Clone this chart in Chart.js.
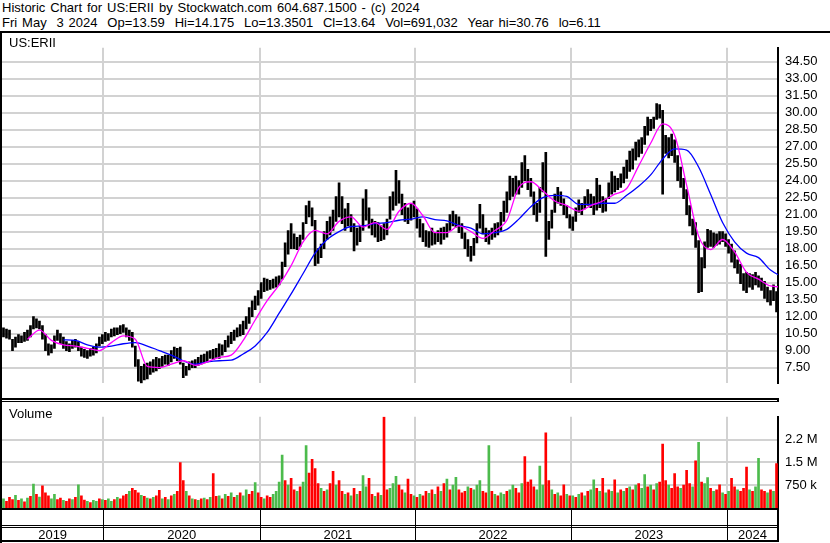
<!DOCTYPE html>
<html>
<head>
<meta charset="utf-8">
<script src="https://cdn.jsdelivr.net/npm/chart.js@4/dist/chart.umd.min.js"></script>
<style>
    body { margin: 0; background: #fff; }
    #wrap { position: relative; width: 830px; height: 543px; overflow: hidden; background: #fff; font-family: "Liberation Sans", Arial, sans-serif; }
    .hdr { position: absolute; left: 2px; font-size: 13px; line-height: 15px; word-spacing: 1.3px; white-space: pre; color: #000; }
    .lbl { position: absolute; font-size: 13px; line-height: 15px; color: #000; }
    .ln { position: absolute; background: #000; }
    canvas { position: absolute; left: 0; }
</style>
</head>
<body>
<div id="wrap">
    <div class="hdr" style="top:0px">Historic Chart for US:ERII by Stockwatch.com 604.687.1500 - (c) 2024</div>
    <div class="hdr" style="top:15px">Fri May  3 2024  Op=13.59  Hi=14.175  Lo=13.3501  Cl=13.64  Vol=691,032  Year hi=30.76  lo=6.11</div>
    <div class="ln" style="left:0;top:31px;width:830px;height:2px"></div>
    <canvas id="price" width="830" height="365" style="top:33px"></canvas>
    <div class="ln" style="left:0;top:398px;width:779px;height:2px"></div>
    <div class="ln" style="left:0;top:401px;width:779px;height:1px"></div>
    <div class="ln" style="left:777px;top:398px;width:2px;height:4px"></div>
    <canvas id="vol" width="830" height="141" style="top:402px"></canvas>
    <div class="ln" style="left:0;top:31px;width:2px;height:512px"></div>
    <div class="lbl" style="left:9px;top:35px">US:ERII</div>
    <div class="lbl" style="left:9px;top:406px">Volume</div>
</div>
<script>
// one entry per week, May 2019 .. May 2024
const priceLow = [
    10.2,10.1,10.0,9.0,9.3,9.7,9.7,9.8,9.9,10.2,
    10.9,11.0,10.9,10.0,9.0,8.6,8.8,9.2,9.9,9.6,
    9.2,9.0,8.9,9.2,9.3,9.0,8.5,8.4,8.3,8.5,
    8.6,8.8,9.4,9.6,9.8,9.9,10.2,10.3,10.4,10.5,
    10.6,10.2,9.9,9.3,7.6,6.3,6.1,6.4,6.5,6.9,
    7.1,7.2,7.4,7.6,7.8,7.7,8.0,8.3,8.1,7.8,
    6.6,6.8,7.3,7.5,7.5,7.7,7.8,7.9,8.0,8.3,
    8.2,8.4,8.3,8.6,8.9,9.3,9.6,9.9,10.2,10.3,
    10.4,10.9,11.4,12.0,12.6,13.0,13.6,14.2,14.3,14.4,
    14.5,14.6,14.8,15.3,16.4,17.5,18.0,18.0,17.9,18.2,
    18.8,20.2,20.8,20.0,16.5,16.7,17.2,18.0,18.8,19.2,
    19.6,20.4,20.8,20.2,19.6,20.0,19.5,17.8,18.3,18.6,
    19.6,20.5,19.8,19.2,19.0,18.6,18.7,18.8,19.2,20.6,
    21.4,21.8,22.0,21.0,20.4,20.2,20.5,20.8,19.8,19.0,
    18.6,18.2,18.1,18.3,18.4,18.6,18.4,18.8,19.0,19.6,
    20.0,19.9,19.4,18.9,18.0,17.3,16.9,17.4,18.5,19.8,
    19.3,18.6,18.4,18.8,19.0,19.2,19.6,20.4,21.2,22.3,
    22.6,22.8,22.8,23.4,24.0,23.2,22.6,21.0,20.4,21.2,
    23.0,17.3,18.8,19.8,21.2,22.0,21.8,21.0,20.7,19.8,
    19.6,20.4,21.2,21.0,21.5,21.8,21.6,21.0,21.4,21.6,
    21.2,21.3,22.4,22.8,23.0,23.2,23.4,23.8,24.2,24.8,
    25.0,25.8,26.1,26.4,27.2,28.0,28.4,28.6,29.4,29.5,
    22.8,26.4,26.0,26.2,25.6,24.0,23.4,22.4,21.0,20.0,
    19.2,18.1,14.1,14.2,16.3,18.1,18.2,18.1,18.3,18.4,
    18.6,18.2,17.6,16.8,16.3,15.8,14.9,14.3,14.1,14.6,
    14.4,14.8,14.6,14.3,13.6,13.3,13.0,13.4,12.4
];
const priceHigh = [
    11.0,10.9,10.8,10.0,10.2,10.4,10.3,10.6,10.8,11.2,
    12.0,11.8,11.6,11.2,10.4,9.6,9.5,10.3,10.8,10.5,
    10.2,9.8,9.6,9.9,10.0,9.8,9.3,9.1,9.0,9.2,
    9.3,9.6,10.2,10.4,10.6,10.5,10.9,11.0,11.0,11.2,
    11.3,11.0,10.8,10.6,9.4,8.2,7.6,7.8,7.9,8.0,
    8.2,8.4,8.3,8.5,8.6,8.6,9.0,9.3,9.2,9.3,
    7.9,7.6,8.0,8.1,8.2,8.4,8.6,8.7,8.9,9.0,
    9.1,9.2,9.6,9.5,9.9,10.3,10.6,10.8,11.0,11.3,
    11.6,12.0,12.8,13.4,13.8,14.3,15.0,15.4,15.3,15.2,
    15.3,15.5,15.6,16.8,18.5,19.6,20.2,19.3,19.0,19.2,
    20.3,21.8,22.2,21.6,20.5,18.0,18.4,19.5,20.4,20.8,
    21.4,22.6,23.8,22.6,21.5,22.0,21.0,20.2,19.8,20.0,
    22.4,23.2,21.6,20.6,20.4,20.3,20.0,20.2,20.6,22.6,
    23.0,24.9,24.0,22.8,22.0,21.6,22.0,22.2,21.5,20.6,
    20.2,19.6,19.5,19.8,19.4,19.6,19.8,19.9,20.2,21.0,
    21.3,21.0,20.8,20.2,19.4,18.8,18.2,18.9,20.2,21.9,
    21.0,19.8,19.6,19.8,20.2,20.3,21.2,22.2,23.0,24.4,
    24.2,24.4,24.0,25.6,26.2,25.0,24.2,23.0,22.0,23.4,
    25.6,26.5,20.4,21.4,22.8,23.4,23.0,22.4,21.8,21.0,
    20.8,21.6,22.3,22.0,22.6,23.2,22.8,22.6,24.2,23.6,
    22.6,22.4,23.8,24.8,24.4,24.2,24.6,25.2,25.8,26.6,
    26.8,27.4,27.6,27.8,28.8,29.6,29.4,29.6,30.8,30.7,
    30.2,28.0,27.8,28.1,27.6,26.2,25.2,24.2,23.2,21.8,
    20.6,20.3,18.7,17.2,18.6,19.7,19.6,19.4,19.3,19.5,
    19.5,19.3,18.8,18.4,17.8,17.0,16.6,15.8,15.9,15.8,
    15.7,15.9,15.6,15.4,15.1,14.6,14.3,14.8,14.2
];
// volume in millions of shares, g = up, r = down
const volume = [
    0.30,0.22,0.35,0.28,0.42,0.25,0.30,0.20,0.33,0.38,
    0.79,0.45,0.36,0.73,0.50,0.40,0.30,0.45,0.28,0.33,
    0.25,0.22,0.30,0.28,0.35,0.76,0.40,0.26,0.22,0.18,
    0.25,0.22,0.30,0.28,0.25,0.30,0.22,0.28,0.35,0.30,
    0.40,0.45,0.55,0.65,0.58,0.50,0.42,0.38,0.33,0.30,
    0.35,0.40,0.58,0.30,0.35,0.28,0.40,0.45,0.55,1.49,
    0.90,0.55,0.40,0.30,0.28,0.25,0.30,0.33,0.28,0.35,
    1.13,0.38,0.40,0.30,0.45,0.38,0.50,0.35,0.42,0.50,
    0.40,0.60,0.45,0.55,0.84,0.50,0.35,0.30,0.40,0.35,
    0.45,0.55,0.85,1.74,0.90,0.75,0.98,0.60,0.55,0.70,
    0.85,2.05,1.15,1.60,1.30,0.80,0.65,0.55,0.60,0.80,
    1.21,0.75,0.90,0.55,0.45,0.50,0.40,0.65,0.45,0.55,
    1.07,0.70,0.98,0.45,0.38,0.50,0.42,3.00,0.60,0.65,
    0.80,1.04,0.75,0.60,0.50,0.95,0.45,0.40,0.35,0.45,
    0.40,0.55,0.48,0.60,0.45,0.70,0.55,0.80,0.95,0.60,
    0.75,1.01,0.60,0.50,0.55,0.70,0.65,0.60,0.75,0.90,
    0.55,0.50,2.05,0.55,0.45,0.40,0.50,0.45,0.55,0.60,
    0.75,0.65,0.50,0.80,1.69,0.85,0.93,0.70,0.60,1.38,
    0.75,2.47,0.90,0.60,0.45,0.50,0.40,0.76,0.45,0.40,
    0.40,0.35,0.45,0.50,0.40,0.55,0.60,0.93,0.65,0.55,
    0.98,0.50,0.60,0.55,0.93,0.50,0.60,0.55,0.65,0.70,
    0.60,0.75,0.80,0.65,1.10,0.70,0.75,0.60,0.80,0.85,
    2.10,0.90,0.75,0.65,1.13,0.70,0.65,0.75,1.24,0.80,
    0.70,1.55,2.16,0.85,0.80,1.00,0.65,0.55,0.60,0.76,
    0.50,0.45,0.55,0.98,0.70,0.60,0.55,0.65,1.35,0.60,
    0.55,0.70,1.63,0.60,0.55,0.50,0.60,0.55,1.46
];
const volDir =
    "grrrgrgrgr" + "grgrrrggrr" + "grrgrgrrgr" + "ggrg" + "rggrgr" +
    "rrgrrrgrgr" + "grrgrgrgrr" + "rgrgrgrgrg" + "rrgrgrgrgr" + "ggrrgr" + "rgrr" +
    "ggggrgrrgr" + "ggrrrrgrgr" + "rgrrgrgrgr" + "ggrrgrgrrg" + "ggrrgrrg" + "rg" +
    "rrgrgrgrgr" + "ggrrrgrggg" + "rrgrgrggrg" + "grrgrrrrgg" + "grrgrgrrgr" +
    "grgrgrggrg" + "rgrgrgrgrg" + "rgrggrgrgr" + "rrgrrrgrrr" + "grgrggrgrr" +
    "grgrrgrrrg" + "rggrrgrgr";

// moving averages, one reading every MA_STEP weeks
const MA_STEP = 4;
const maPink = [
    null,null,10.0,10.8,9.9,9.5,9.4,9.2,9.0,9.7,
    10.3,10.0,7.6,7.5,7.8,8.1,7.7,8.0,8.4,8.6,
    9.9,11.7,13.4,14.8,16.5,18.6,19.6,19.3,20.4,20.8,
    19.9,20.3,19.7,21.3,22.0,20.9,19.4,19.4,20.0,19.5,
    18.9,19.6,20.5,23.4,23.9,23.1,22.2,21.8,21.3,21.8,
    22.2,22.8,23.3,25.3,27.3,29.0,28.0,23.6,19.1,17.9,
    18.8,17.7,15.9,15.3,14.7,14.6
];
const maBlue = [
    null,null,null,null,null,9.95,9.9,9.5,9.3,9.4,
    9.6,9.7,9.4,9.0,8.6,8.1,7.8,8.0,8.1,8.15,
    8.7,9.4,10.6,12.3,14.0,15.8,17.6,18.8,19.5,19.95,
    20.0,20.2,20.3,20.5,20.6,20.8,20.55,20.45,20.05,19.8,
    19.3,19.4,19.7,20.6,21.7,22.5,22.7,22.6,21.9,21.9,
    22.0,22.0,22.7,23.5,24.5,25.9,26.8,26.7,25.2,22.8,
    20.3,18.6,17.6,17.2,16.1,15.5
];

const priceTicks = [7.5, 9, 10.5, 12, 13.5, 15, 16.5, 18, 19.5, 21, 22.5, 24, 25.5, 27, 28.5, 30, 31.5, 33, 34.5];
const volTicks = [0.75, 1.5, 2.25];
const volTickLabels = ["750 k", "1.5 M", "2.2 M"];
const yearLabels = ["2019", "2020", "2021", "2022", "2023", "2024"];
const yearStarts = [33.3, 85.7, 137.5, 189.3, 241.5]; // week index where a new year begins

const FONT = "'Liberation Sans', Arial, sans-serif";
const GRID = "#d2d2d2";
const N = priceLow.length;

function xScale() {
    return {
        type: "linear",
        min: -0.5,
        max: N - 0.5,
        offset: false,
        bounds: "data",
        ticks: { display: false },
        grid: { color: GRID, lineWidth: 2, drawTicks: false, offset: false },
        border: { display: false },
        afterBuildTicks: (s) => { s.ticks = yearStarts.map((v) => ({ value: v })); },
    };
}

function yScale(min, max, ticks, label) {
    return {
        position: "right",
        min: min,
        max: max,
        afterBuildTicks: (s) => { s.ticks = ticks.map((v) => ({ value: v })); },
        afterFit: (s) => { s.width = 52; },
        ticks: {
            autoSkip: false,
            padding: 7,
            color: "#000",
            font: { family: FONT, size: 13 },
            callback: label,
        },
        grid: { color: GRID, lineWidth: 2, drawTicks: false },
        border: { display: true, color: "#000", width: 2 },
    };
}

const priceX = xScale();
priceX.afterFit = (s) => { s.height = 0; };

new Chart(document.getElementById("price"), {
    type: "bar",
    data: {
        datasets: [
            {
                type: "line",
                data: maPink.map((v, k) => ({ x: k * MA_STEP, y: v })),
                borderColor: "#ff00ff",
                borderWidth: 1.3,
                pointRadius: 0,
                cubicInterpolationMode: "monotone",
                order: 1,
            },
            {
                type: "line",
                data: maBlue.map((v, k) => ({ x: k * MA_STEP, y: v })),
                borderColor: "#0000ff",
                borderWidth: 1.3,
                pointRadius: 0,
                cubicInterpolationMode: "monotone",
                order: 1,
            },
            {
                data: priceLow.map((lo, i) => ({ x: i, y: [lo, priceHigh[i]] })),
                backgroundColor: "#000",
                barThickness: 2,
                order: 2,
            },
        ],
    },
    options: {
        responsive: false,
        animation: false,
        layout: { padding: { left: 2, right: 0, top: 0, bottom: 0 } },
        plugins: { legend: { display: false }, tooltip: { enabled: false } },
        scales: {
            x: priceX,
            y: yScale(6.12, 35.72, priceTicks, (v) => v.toFixed(2)),
        },
    },
});

const axisRows = {
    id: "axisRows",
    afterDraw(chart) {
        const ctx = chart.ctx;
        const a = chart.chartArea;
        const xs = chart.scales.x;
        const b = a.bottom;
        ctx.save();
        ctx.fillStyle = "#000";
        ctx.fillRect(0, b, a.right + 1, 2);
        ctx.fillRect(0, b + 17, a.right + 1, 1);
        ctx.fillRect(0, b + 19, a.right + 1, 1);
        ctx.fillRect(0, b + 32, a.right + 1, 2);
        ctx.fillRect(a.right - 1, b, 2, 34);
        yearStarts.forEach((v) => {
            ctx.fillRect(Math.round(xs.getPixelForValue(v)), b + 2, 1, 30);
        });
        const edges = [xs.min, ...yearStarts, xs.max];
        ctx.font = "13px " + FONT;
        ctx.textAlign = "center";
        ctx.textBaseline = "middle";
        yearLabels.forEach((t, k) => {
            const x0 = xs.getPixelForValue(edges[k]);
            const x1 = xs.getPixelForValue(edges[k + 1]);
            ctx.fillText(t, (x0 + x1) / 2, b + 27);
        });
        ctx.restore();
    },
};

const volX = xScale();
volX.afterFit = (s) => { s.height = 35; };

new Chart(document.getElementById("vol"), {
    type: "bar",
    data: {
        datasets: [
            {
                data: volume.map((v, i) => ({ x: i, y: v })),
                backgroundColor: volume.map((v, i) => (volDir[i] === "g" ? "#4cbb4c" : "#ff0000")),
                barThickness: 2,
            },
        ],
    },
    options: {
        responsive: false,
        animation: false,
        layout: { padding: { left: 2, right: 0, top: 0, bottom: 0 } },
        plugins: { legend: { display: false }, tooltip: { enabled: false } },
        scales: {
            x: volX,
            y: yScale(0, 3.0, volTicks, (v, i) => volTickLabels[i]),
        },
    },
    plugins: [axisRows],
});
</script>
</body>
</html>
